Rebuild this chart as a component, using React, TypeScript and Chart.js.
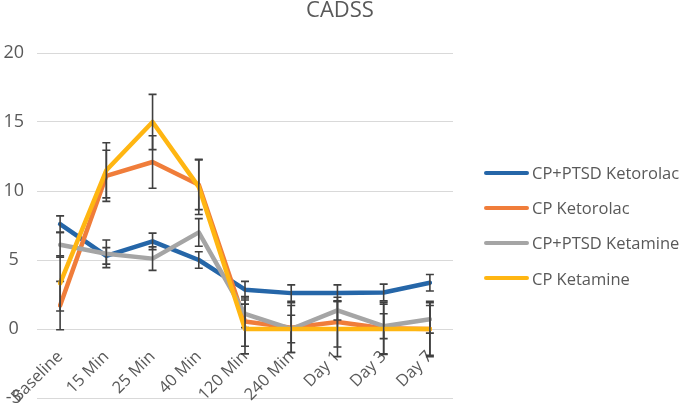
import React, { useEffect, useRef } from "react";
import { Chart, registerables } from "chart.js";

Chart.register(...registerables);

const categories = ["Baseline", "15 Min", "25 Min", "40 Min", "120 Min", "240 Min", "Day 1", "Day 3", "Day 7"];
const seriesNames = ["CP+PTSD Ketorolac", "CP Ketorolac", "CP+PTSD Ketamine", "CP Ketamine"];
const ptsdKetorolac = [7.6, 5.3, 6.35, 5.0, 2.85, 2.6, 2.6, 2.65, 3.35];
const ptsdKetorolacErr = [0.6, 0.6, 0.6, 0.6, 0.6, 0.6, 0.6, 0.6, 0.6];
const cpKetorolac = [1.7, 11.1, 12.1, 10.45, 0.55, 0.1, 0.5, 0.05, 0];
const cpKetorolacErr = [1.75, 1.85, 1.9, 1.8, 1.8, 1.8, 1.8, 1.9, 2.0];
const ptsdKetamine = [6.1, 5.45, 5.1, 7.0, 1.1, 0, 1.35, 0.2, 0.7];
const ptsdKetamineErr = [0.9, 1.0, 0.85, 1.0, 1.0, 1.0, 0.7, 0.9, 1.0];
const cpKetamine = [3.3, 11.5, 15.0, 10.3, 0, 0, 0, 0, 0];
const cpKetamineErr = [2.0, 2.0, 2.0, 2.0, 1.8, 1.7, 2.0, 1.8, 1.9];
const yTicks = { min: -5, max: 20, step: 5 };
const colors = ["#2566A8", "#F07D3A", "#A5A5A5", "#FFB612"];

const FONT = "'Open Sans', 'Noto Sans', sans-serif";
const TEXT = "#595959";

const errorBarPlugin = {
  id: "errorBars",
  afterDatasetDraw(chart: any, args: any) {
    const ds = chart.data.datasets[args.index];
    const errs: number[] = ds.errors;
    if (!errs) return;
    const meta = args.meta;
    const y = chart.scales.y;
    const ctx = chart.ctx;
    ctx.save();
    ctx.strokeStyle = "#404040";
    ctx.lineWidth = 1.6;
    ds.data.forEach((v: number, i: number) => {
      const pt = meta.data[i];
      if (!pt) return;
      const x = pt.x;
      const top = y.getPixelForValue(v + errs[i]);
      const bot = y.getPixelForValue(v - errs[i]);
      ctx.beginPath();
      ctx.moveTo(x, top);
      ctx.lineTo(x, bot);
      ctx.moveTo(x - 4, top);
      ctx.lineTo(x + 4, top);
      ctx.moveTo(x - 4, bot);
      ctx.lineTo(x + 4, bot);
      ctx.stroke();
    });
    ctx.restore();
  },
};

export default function App() {
  const ref = useRef<HTMLCanvasElement>(null);
  useEffect(() => {
    document.body.style.margin = "0";
    const values = [ptsdKetorolac, cpKetorolac, ptsdKetamine, cpKetamine];
    const errors = [ptsdKetorolacErr, cpKetorolacErr, ptsdKetamineErr, cpKetamineErr];
    const chart = new Chart(ref.current!, {
      type: "line",
      data: {
        labels: categories,
        datasets: seriesNames.map((name, i) => ({
          label: name,
          data: values[i],
          errors: errors[i],
          borderColor: colors[i],
          backgroundColor: colors[i],
          borderWidth: 4.5,
          pointRadius: 0,
          borderJoinStyle: "round",
          borderCapStyle: "round",
          tension: 0,
          order: 3 - i,
        })) as any,
      },
      options: {
        responsive: false,
        animation: false,
        devicePixelRatio: 1,
        layout: { padding: { left: 0, right: 0, top: 0, bottom: 9 } },
        plugins: {
          legend: { display: false },
          tooltip: { enabled: false },
          title: {
            display: true,
            text: "CADSS",
            color: TEXT,
            font: { family: FONT, size: 22, weight: "normal", lineHeight: 1 },
            padding: { top: 0, bottom: 31 },
          },
        },
        scales: {
          x: {
            type: "category",
            offset: true,
            position: { y: 0 } as any,
            grid: { display: false, drawTicks: false },
            border: { display: false },
            ticks: {
              color: TEXT,
              font: { family: FONT, size: 16.5 },
              minRotation: 45,
              maxRotation: 45,
              autoSkip: false,
              padding: 18,
            },
            afterFit: (s: any) => {
              s.height = 0;
              s.paddingLeft = 0;
              s.paddingRight = 0;
            },
          },
          y: {
            min: yTicks.min,
            max: yTicks.max,
            ticks: {
              stepSize: yTicks.step,
              color: TEXT,
              font: { family: FONT, size: 18 },
              crossAlign: "center",
              padding: 13,
            },
            grid: { color: "#D9D9D9", lineWidth: 1, drawTicks: false },
            border: { display: false },
            afterFit: (s: any) => {
              s.width = 37;
              s.paddingTop = 0;
              s.paddingBottom = 0;
            },
          },
          legendSpace: {
            type: "linear",
            position: "right",
            min: 0,
            max: 1,
            grid: { display: false, drawTicks: false },
            border: { display: false },
            ticks: { display: false },
            afterFit: (s: any) => {
              s.width = 227;
              s.paddingTop = 0;
              s.paddingBottom = 0;
            },
          } as any,
        },
      },
      plugins: [errorBarPlugin],
    });
    return () => chart.destroy();
  }, []);

  const legendTops = [0, 1, 2, 3];
  return (
    <div style={{ position: "relative", width: 680, height: 407, overflow: "hidden", background: "#fff" }}>
      <canvas ref={ref} width={680} height={407} style={{ display: "block" }} />
      <div style={{ position: "absolute", left: 484, top: 155 }}>
        {legendTops.map((i) => (
          <div key={i} style={{ display: "flex", alignItems: "center", height: 35.2, whiteSpace: "nowrap" }}>
            <span style={{ display: "inline-block", width: 45, height: 4, borderRadius: 2, background: colors[i], marginRight: 3, flexShrink: 0 }} />
            <span style={{ fontFamily: FONT, fontSize: 16.5, color: TEXT }}>{seriesNames[i]}</span>
          </div>
        ))}
      </div>
    </div>
  );
}
